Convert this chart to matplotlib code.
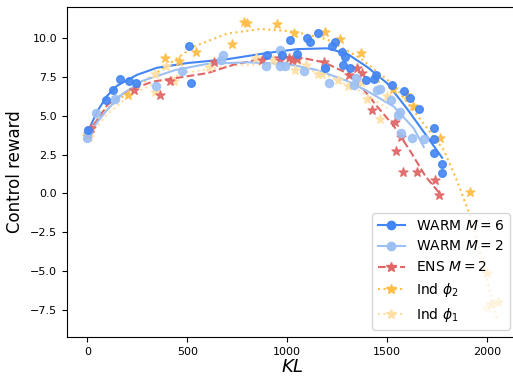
import matplotlib
matplotlib.use("Agg")
import matplotlib.pyplot as plt
from matplotlib.lines import Line2D

# scatter points (KL, control reward)
warm6_kl = [5, 95, 130, 162, 210, 243, 508, 518, 900, 975, 1013, 1047, 1100, 1112, 1155,
            1188, 1225, 1237, 1275, 1288, 1277, 1313, 1392, 1435, 1442, 1525, 1583, 1615,
            1658, 1733, 1733, 1733, 1773, 1773]
warm6_r = [4.1, 6.0, 6.67, 7.36, 7.27, 7.1, 9.52, 7.14, 8.92, 8.92, 9.87, 8.99, 10.04, 9.78, 10.34,
           8.09, 9.52, 9.78, 9.14, 8.81, 8.26, 8.07, 7.31, 7.38, 7.63, 6.99, 6.62, 6.13,
           5.42, 4.24, 3.49, 2.59, 1.90, 1.34]

warm2_kl = [0, 5, 46, 140, 345, 472, 670, 680, 895, 963, 963, 990, 1085, 1188, 1210, 1335,
            1342, 1450, 1463, 1517, 1553, 1563, 1570, 1622, 1683]
warm2_r = [3.6, 4.0, 5.2, 6.1, 6.93, 7.89, 8.6, 8.92, 8.23, 9.25, 8.21, 8.21, 7.88, 8.1, 7.12, 6.99,
           7.42, 6.67, 6.71, 6.02, 5.06, 5.27, 3.92, 3.56, 3.49]

ens_kl = [5, 20, 233, 365, 415, 633, 875, 965, 1010, 1025, 1050, 1183, 1308, 1350, 1372,
          1425, 1538, 1570, 1543, 1577, 1647, 1737, 1760]
ens_r = [3.8, 4.2, 6.67, 6.35, 7.26, 8.49, 8.6, 8.6, 8.72, 8.6, 8.65, 8.44, 7.63, 8.07, 7.78,
         5.38, 4.6, 3.64, 2.74, 1.38, 1.38, 0.85, -0.07]

phi2_kl = [0, 203, 387, 460, 545, 725, 783, 800, 950, 1033, 1187, 1263, 1367, 1442, 1530,
           1597, 1630, 1762, 1913, 2000, 2017, 2053]
phi2_r = [3.7, 6.35, 8.75, 8.56, 9.14, 9.61, 11.03, 11.0, 10.94, 10.34, 10.38, 9.93, 9.03, 7.42, 6.71,
          6.35, 5.64, 3.56, 0.08, -5.14, -7.1, -6.97]

phi1_kl = [8, 338, 341, 392, 433, 608, 845, 928, 1037, 1047, 1092, 1155, 1172, 1253, 1303,
           1367, 1397, 1463, 1497, 1997]
phi1_r = [3.66, 6.56, 7.7, 8.2, 7.25, 8.15, 8.71, 8.58, 7.93, 8.6, 8.28, 7.72, 7.7, 7.31, 6.93,
          7.2, 6.07, 4.8, 6.28, -7.4]

# fitted trend curves
warm6_fit_kl = [0, 50, 100, 150, 250, 350, 500, 700, 900, 1050, 1200, 1300, 1400, 1500, 1600, 1700, 1775]
warm6_fit_r = [3.9, 5.3, 6.3, 6.95, 7.65, 8.1, 8.4, 8.65, 9.05, 9.3, 9.35, 9.0, 8.15, 7.1, 5.45, 3.66, 2.3]

warm2_fit_kl = [0, 50, 100, 175, 275, 440, 600, 800, 1000, 1150, 1300, 1400, 1533, 1633, 1683]
warm2_fit_r = [3.6, 4.6, 5.4, 6.4, 7.25, 7.95, 8.35, 8.45, 8.35, 7.95, 7.25, 6.6, 5.6, 4.2, 3.0]

ens_fit_kl = [0, 100, 200, 325, 450, 600, 733, 900, 1050, 1183, 1300, 1367, 1450, 1533, 1617, 1692, 1763]
ens_fit_r = [3.8, 5.7, 6.6, 7.2, 7.45, 7.75, 8.3, 8.75, 8.8, 8.45, 7.75, 6.95, 5.6, 4.35, 2.7, 1.1, 0.0]

phi2_fit_kl = [0, 83, 200, 367, 533, 700, 867, 1033, 1200, 1367, 1533, 1700, 1783, 1850, 1917, 1985, 2050]
phi2_fit_r = [3.9, 5.3, 6.45, 7.96, 9.46, 10.3, 10.6, 10.43, 9.93, 8.71, 6.99, 4.2, 2.8, 0.8, -1.5, -4.8, -8.1]

phi1_fit_kl = [0, 100, 200, 350, 500, 700, 900, 1050, 1200, 1350, 1500]
phi1_fit_r = [3.6, 5.1, 6.2, 7.2, 7.8, 8.2, 8.35, 8.2, 7.6, 6.7, 5.5]

c_warm6 = '#4285F4'
c_warm2 = '#9DC0F4'
c_ens = '#E06666'
c_phi2 = '#FFBD45'
c_phi1 = '#FFDFA3'

fig = plt.figure(figsize=(5.13, 3.78), dpi=100)
ax = fig.add_axes([0.130, 0.109, 0.878, 0.872])

# draw lighter series first
ax.plot(phi1_fit_kl, phi1_fit_r, color=c_phi1, ls=':', lw=1.5)
ax.scatter(phi1_kl, phi1_r, marker='*', s=45, color=c_phi1, alpha=0.9, zorder=3)
ax.plot(phi2_fit_kl, phi2_fit_r, color=c_phi2, ls=':', lw=1.5)
ax.scatter(phi2_kl, phi2_r, marker='*', s=45, color=c_phi2, alpha=0.9, zorder=3)
ax.plot(ens_fit_kl, ens_fit_r, color=c_ens, ls='--', lw=1.5)
ax.scatter(ens_kl, ens_r, marker='*', s=45, color=c_ens, alpha=0.9, zorder=3)
ax.plot(warm2_fit_kl, warm2_fit_r, color=c_warm2, ls='-', lw=1.5)
ax.scatter(warm2_kl, warm2_r, marker='o', s=34, color=c_warm2, alpha=0.9, zorder=3)
ax.plot(warm6_fit_kl, warm6_fit_r, color=c_warm6, ls='-', lw=1.5)
ax.scatter(warm6_kl, warm6_r, marker='o', s=30, color=c_warm6, alpha=0.9, zorder=4)

handles = [
    Line2D([], [], color=c_warm6, ls='-', marker='o', ms=6, lw=1.5),
    Line2D([], [], color=c_warm2, ls='-', marker='o', ms=6, lw=1.5),
    Line2D([], [], color=c_ens, ls='--', marker='*', ms=7, lw=1.5),
    Line2D([], [], color=c_phi2, ls=':', marker='*', ms=7, lw=1.5),
    Line2D([], [], color=c_phi1, ls=':', marker='*', ms=7, lw=1.5),
]
labels = ['WARM $M=6$', 'WARM $M=2$', 'ENS $M=2$', r'Ind $\phi_2$', r'Ind $\phi_1$']
ax.legend(handles, labels, loc='lower right', fontsize=10)

ax.set_xlim(-103, 2150)
ax.set_ylim(-9.23, 12.0)
ax.set_xticks([0, 500, 1000, 1500, 2000])
ax.set_yticks([-7.5, -5.0, -2.5, 0.0, 2.5, 5.0, 7.5, 10.0])
ax.tick_params(labelsize=8)
ax.set_xlabel('$KL$', fontsize=13, labelpad=1)
ax.set_ylabel('Control reward', fontsize=12)

fig.savefig('out.png', dpi=100)
